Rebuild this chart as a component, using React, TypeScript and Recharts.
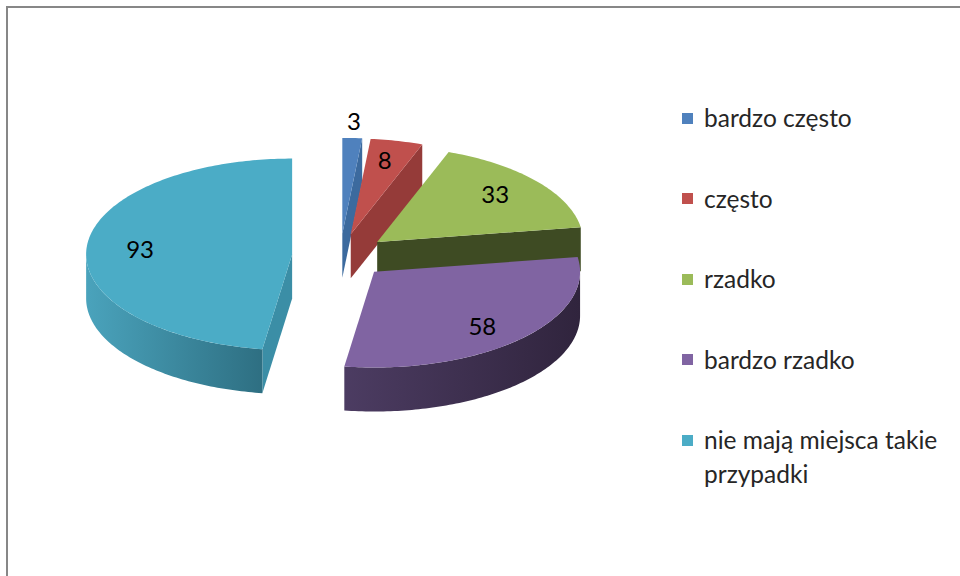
import React from 'react';
import { PieChart, Pie, Cell, Legend } from 'recharts';

const categories = [
  'bardzo często',
  'często',
  'rzadko',
  'bardzo rzadko',
  'nie mają miejsca takie przypadki',
];
const values = [3, 8, 33, 58, 93];

const TOP_COLORS = ['#4F81BD', '#C0504D', '#9BBB59', '#8064A2', '#4BACC6'];
const CUT_COLORS = ['#3c6a9e', '#953b39', '#3e4b23', '#4b3b60', '#3b8ea6'];
const WALL_LEFT = ['#44709f', '#a84542', '#5d7a30', '#4c3c62', '#4aa3bc'];
const WALL_RIGHT = ['#2f4f75', '#7a2f2d', '#3e4b23', '#30243d', '#2e6f82'];

const data = categories.map((name, i) => ({ name, value: values[i] }));

const TILT = 0.465;
const DEPTH = 44;
const EXPLODE = 48;
const RAD = Math.PI / 180;

type P = [number, number];

function Slice3D(props: any) {
  const { cx, cy, outerRadius, startAngle, endAngle, index, percent, value } = props;
  const rx = outerRadius;
  const ry = outerRadius * TILT;
  const t1 = 90 - startAngle;
  const t2 = 90 - endAngle;
  const tm = (t1 + t2) / 2;
  const X = cx + EXPLODE * Math.sin(tm * RAD);
  const Y = cy - EXPLODE * TILT * Math.cos(tm * RAD);
  const pt = (t: number, f = 1, dy = 0, fy = f): P => [
    X + rx * f * Math.sin(t * RAD),
    Y - ry * fy * Math.cos(t * RAD) + dy,
  ];
  const arc = (a: number, b: number, dy = 0): P[] => {
    const n = Math.max(2, Math.ceil(Math.abs(b - a)));
    const out: P[] = [];
    for (let i = 0; i <= n; i++) out.push(pt(a + ((b - a) * i) / n, 1, dy));
    return out;
  };
  const toPath = (pts: P[]) =>
    'M' + pts.map((p) => p[0].toFixed(2) + ',' + p[1].toFixed(2)).join('L') + 'Z';

  const faces: React.ReactNode[] = [];
  const cutFace = (t: number, key: string) => {
    const poly: P[] = [[X, Y], pt(t), pt(t, 1, DEPTH), [X, Y + DEPTH]];
    faces.push(<path key={key} d={toPath(poly)} fill={CUT_COLORS[index]} />);
  };
  if (Math.cos((t1 - 90) * RAD) < -1e-6) cutFace(t1, 'cs');
  if (Math.cos((t2 + 90) * RAD) < -1e-6) cutFace(t2, 'ce');

  const a = Math.max(t1, 90);
  const b = Math.min(t2, 270);
  const gid = `wallGrad-${index}`;
  let wall: React.ReactNode = null;
  if (b > a) {
    const pts = arc(a, b).concat(arc(b, a, DEPTH));
    wall = <path d={toPath(pts)} fill={`url(#${gid})`} />;
  }
  const top = toPath([[X, Y] as P].concat(arc(t1, t2)));
  const outside = percent < 0.03;
  const lp = outside ? pt(tm, 1.18) : pt(tm, 0.74, 0, 0.8);

  return (
    <g>
      <defs>
        <linearGradient id={gid} x1="0" y1="0" x2="1" y2="0">
          <stop offset="0%" stopColor={WALL_LEFT[index]} />
          <stop offset="100%" stopColor={WALL_RIGHT[index]} />
        </linearGradient>
      </defs>
      {faces}
      {wall}
      <path d={top} fill={TOP_COLORS[index]} />
      <text
        x={lp[0]}
        y={lp[1]}
        textAnchor="middle"
        dominantBaseline="central"
        fontFamily="Lato, 'Open Sans', sans-serif"
        fontSize={24}
        fill="#000"
      >
        {value}
      </text>
    </g>
  );
}

const renderLegend = () => (
  <div style={{ fontFamily: "Lato, 'Open Sans', sans-serif", fontSize: 24.5, color: '#262626' }}>
    {categories.map((name, i) => (
      <div key={name} style={{ display: 'flex', alignItems: 'flex-start', height: 80.5 }}>
        <span
          style={{
            width: 11,
            height: 11,
            background: TOP_COLORS[i],
            marginTop: 11.5,
            marginRight: 11,
            flexShrink: 0,
            display: 'inline-block',
          }}
        />
        <span style={{ lineHeight: '34px', width: 252 }}>{name}</span>
      </div>
    ))}
  </div>
);

export default function App() {
  return (
    <div
      style={{
        position: 'absolute',
        left: 0,
        top: 0,
        width: 960,
        height: 576,
        overflow: 'hidden',
        background: '#fff',
      }}
    >
      <div
        style={{
          position: 'absolute',
          left: 6,
          top: 6,
          width: 1100,
          height: 1100,
          border: '2px solid #878787',
        }}
      />
      <div style={{ position: 'absolute', left: 0, top: 0 }}>
        <PieChart width={960} height={576} margin={{ top: 0, right: 0, bottom: 0, left: 0 }}>
          <Pie
            data={data}
            dataKey="value"
            nameKey="name"
            cx={340}
            cy={256}
            outerRadius={206}
            startAngle={90}
            endAngle={-270}
            stroke="none"
            fillOpacity={0}
            label={Slice3D}
            labelLine={false}
            isAnimationActive={false}
          >
            {data.map((d, i) => (
              <Cell key={d.name} fill={TOP_COLORS[i]} fillOpacity={0} />
            ))}
          </Pie>
          <Legend
            layout="vertical"
            align="right"
            verticalAlign="top"
            content={renderLegend}
            wrapperStyle={{ left: 682, right: 'auto', top: 101, width: 275 }}
          />
        </PieChart>
      </div>
    </div>
  );
}
